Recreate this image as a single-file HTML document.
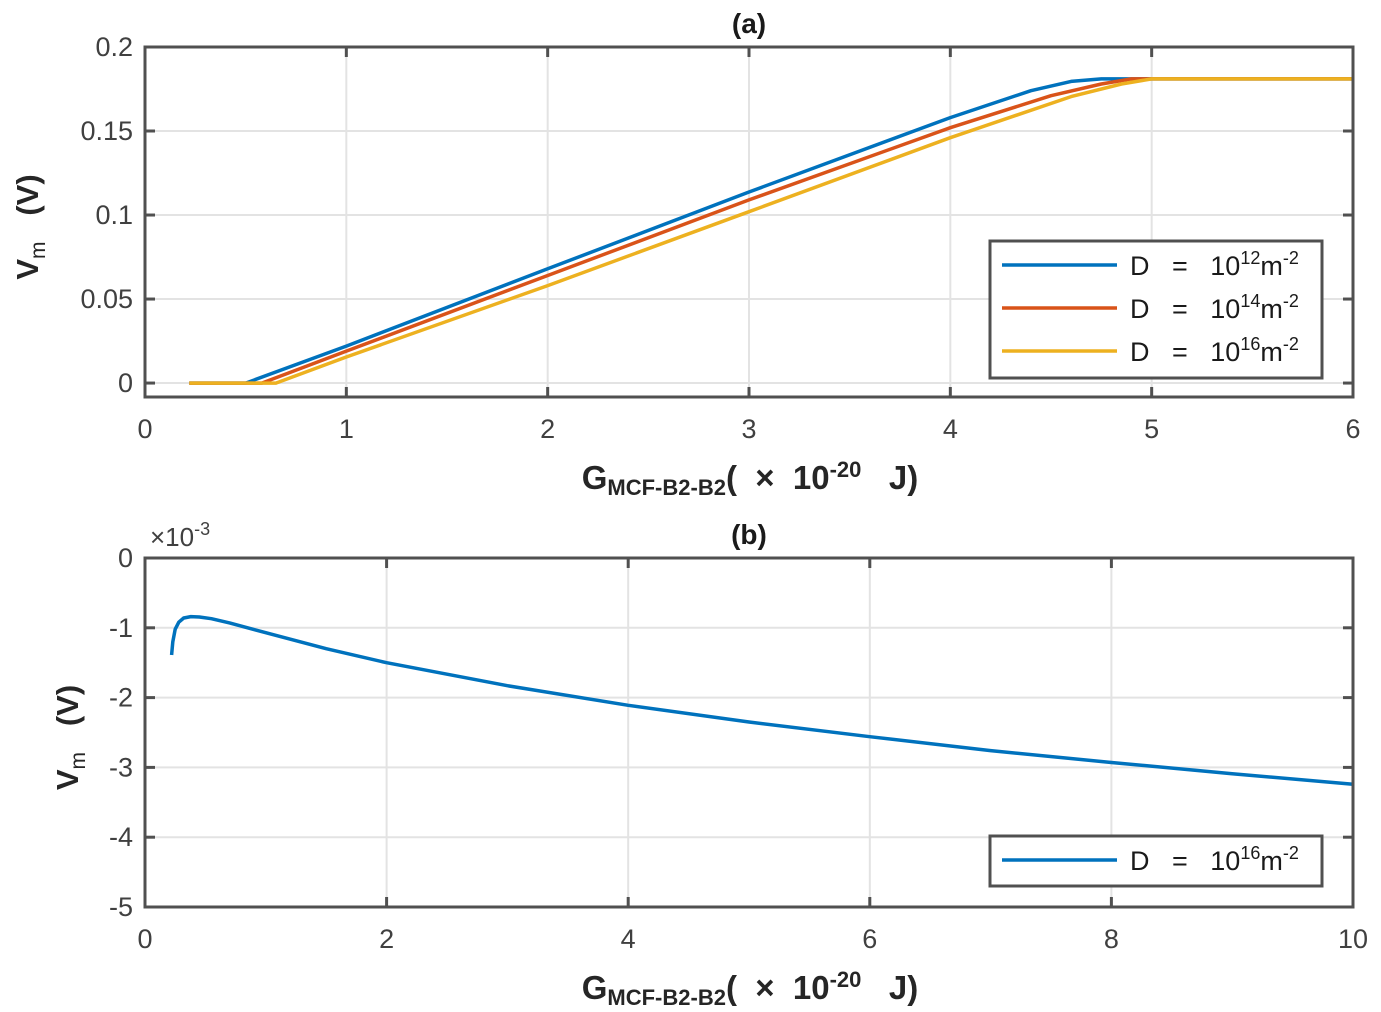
<!DOCTYPE html>
<html><head><meta charset="utf-8"><style>
html,body{margin:0;padding:0;background:#fff;}
svg{display:block;font-family:"Liberation Sans",Arial,sans-serif;}
text,tspan{white-space:pre;}
</style></head><body>
<svg id="fig" width="1381" height="1012" viewBox="0 0 1381 1012" xmlns="http://www.w3.org/2000/svg"></svg>
<script>
// ----- Panel (a) data -----
const aXTicks=[0,1,2,3,4,5,6];
const aYTicks=[0,0.05,0.1,0.15,0.2];
const aYTickLabels=["0","0.05","0.1","0.15","0.2"];
const aBlueX=[0.22,0.5,1,2,3,4,4.4,4.6,4.75,6];
const aBlueY=[0,0,0.022,0.068,0.1137,0.158,0.174,0.1795,0.181,0.181];
const aOrangeX=[0.22,0.58,1,2,3,4,4.5,4.75,4.9,6];
const aOrangeY=[0,0,0.019,0.064,0.109,0.152,0.171,0.178,0.181,0.181];
const aYellowX=[0.22,0.65,1,2,3,4,4.6,4.85,5.0,6];
const aYellowY=[0,0,0.0155,0.058,0.102,0.146,0.1705,0.178,0.181,0.181];
const aLegend=["12","14","16"];
// ----- Panel (b) data -----
const bXTicks=[0,2,4,6,8,10];
const bYTicks=[0,-1,-2,-3,-4,-5];
const bX=[0.22,0.23,0.25,0.28,0.32,0.38,0.45,0.55,0.7,1,1.5,2,3,4,5,6,7,8,9,10];
const bY=[-1.39,-1.2,-1.02,-0.92,-0.86,-0.84,-0.845,-0.87,-0.93,-1.07,-1.3,-1.5,-1.83,-2.11,-2.35,-2.56,-2.76,-2.93,-3.09,-3.24];

const NS="http://www.w3.org/2000/svg";
const svg=document.getElementById('fig');
function mk(tag,attrs,parent){const e=document.createElementNS(NS,tag);for(const k in attrs)e.setAttribute(k,attrs[k]);(parent||svg).appendChild(e);return e;}

function panel(o){
  const sx=v=>o.x0+(v-o.xmin)/(o.xmax-o.xmin)*(o.x1-o.x0);
  const sy=v=>o.y1-(v-o.ymin)/(o.ymax-o.ymin)*(o.y1-o.y0);
  const g=mk('g',{});
  
  
  o.xt.forEach(t=>{const l=mk('line',{x1:sx(t),x2:sx(t),y1:o.y0,y2:o.y1,stroke:'#e3e3e3','stroke-width':2},g);
    });
  o.yt.forEach(t=>{const l=mk('line',{x1:o.x0,x2:o.x1,y1:sy(t),y2:sy(t),stroke:'#e3e3e3','stroke-width':2},g);
    });
  o.series.forEach(s=>{
    const pts=s.x.map((v,i)=>sx(v).toFixed(1)+','+sy(s.y[i]).toFixed(1)).join(' ');
    const p=mk('polyline',{points:pts,fill:'none',stroke:s.c,'stroke-width':3.5,'stroke-linejoin':'round'},g);
    
    
  });
  const b=mk('rect',{x:o.x0,y:o.y0,width:o.x1-o.x0,height:o.y1-o.y0,fill:'none',stroke:'#505050','stroke-width':3},g);
  
  
  o.xt.forEach(t=>{
    mk('line',{x1:sx(t),x2:sx(t),y1:o.y1,y2:o.y1-10,stroke:'#505050','stroke-width':3},g);
    mk('line',{x1:sx(t),x2:sx(t),y1:o.y0,y2:o.y0+10,stroke:'#505050','stroke-width':3},g);
    const tx=mk('text',{x:sx(t),y:o.y1+41,'text-anchor':'middle','font-size':27,fill:'#404040'},g);
    tx.textContent=String(t);
    
    
  });
  o.yt.forEach((t,i)=>{
    mk('line',{x1:o.x0,x2:o.x0+10,y1:sy(t),y2:sy(t),stroke:'#505050','stroke-width':3},g);
    mk('line',{x1:o.x1,x2:o.x1-10,y1:sy(t),y2:sy(t),stroke:'#505050','stroke-width':3},g);
    const tx=mk('text',{x:o.x0-12,y:sy(t)+9,'text-anchor':'end','font-size':27,fill:'#404040'},g);
    tx.textContent=o.ytl[i];
    
    
  });
  const ti=mk('text',{x:(o.x0+o.x1)/2,y:o.y0-14,'text-anchor':'middle','font-size':28,'font-weight':'bold',fill:'#1a1a1a'},g);
  ti.textContent=o.title;
  
  
  const xl=mk('text',{x:750,y:o.y1+92,'text-anchor':'middle','font-size':33,'font-weight':'bold',fill:'#262626'},g);
  xl.innerHTML='G<tspan font-size="22" dy="6">MCF-B2-B2</tspan><tspan dy="-6">(  ×  10</tspan><tspan font-size="22" dy="-12">-20</tspan><tspan dy="12">   J)</tspan>';
  
  
  const yl=mk('text',{transform:`translate(${o.ylx},${(o.y0+o.y1)/2+5}) rotate(-90)`,'text-anchor':'middle','font-size':31,'font-weight':'bold',fill:'#262626'},g);
  yl.innerHTML='V<tspan font-size="21" dy="7" font-weight="normal">m</tspan><tspan dy="-7">   (V)</tspan>';
  
  
  const L=o.leg;
  const lg=mk('g',{},g);
  
  
  mk('rect',{x:L.x,y:L.y,width:L.w,height:L.h,fill:'#fff',stroke:'#505050','stroke-width':3},lg);
  L.items.forEach((it,i)=>{
    const cy=L.y+24+i*43;
    const ent=mk('g',{},lg);
    
    
    mk('line',{x1:L.x+12,x2:L.x+127,y1:cy,y2:cy,stroke:it.c,'stroke-width':3.5},ent);
    const t=mk('text',{x:L.x+140,y:cy+10,'font-size':27,fill:'#1a1a1a'},ent);
    t.innerHTML='D   =   10<tspan font-size="18" dy="-11">'+it.e+'</tspan><tspan dy="11">m</tspan><tspan font-size="18" dy="-11">-2</tspan>';
  });
}

panel({name:'panel-a',x0:145,x1:1353,y0:47,y1:397,xmin:0,xmax:6,ymin:-0.0083,ymax:0.2,
  xt:aXTicks,yt:aYTicks,ytl:aYTickLabels,title:'(a)',ylx:38,
  series:[{x:aBlueX,y:aBlueY,c:'#0072bd',name:'line-d-1e12'},{x:aOrangeX,y:aOrangeY,c:'#d95319',name:'line-d-1e14'},{x:aYellowX,y:aYellowY,c:'#edb120',name:'line-d-1e16'}],
  leg:{x:990,y:241,w:332,h:137,items:[{c:'#0072bd',e:aLegend[0]},{c:'#d95319',e:aLegend[1]},{c:'#edb120',e:aLegend[2]}]}});

panel({name:'panel-b',x0:145,x1:1353,y0:558,y1:907,xmin:0,xmax:10,ymin:-5,ymax:0,
  xt:bXTicks,yt:bYTicks,ytl:bYTicks.map(String),title:'(b)',ylx:78,
  series:[{x:bX,y:bY,c:'#0072bd',name:'line-b-d-1e16'}],
  leg:{x:990,y:836,w:332,h:50,items:[{c:'#0072bd',e:'16'}]}});

const ex=mk('text',{x:150,y:546,'font-size':26,fill:'#404040'});
ex.innerHTML='×10<tspan font-size="18" dy="-11">-3</tspan>';


</script>
</body></html>
